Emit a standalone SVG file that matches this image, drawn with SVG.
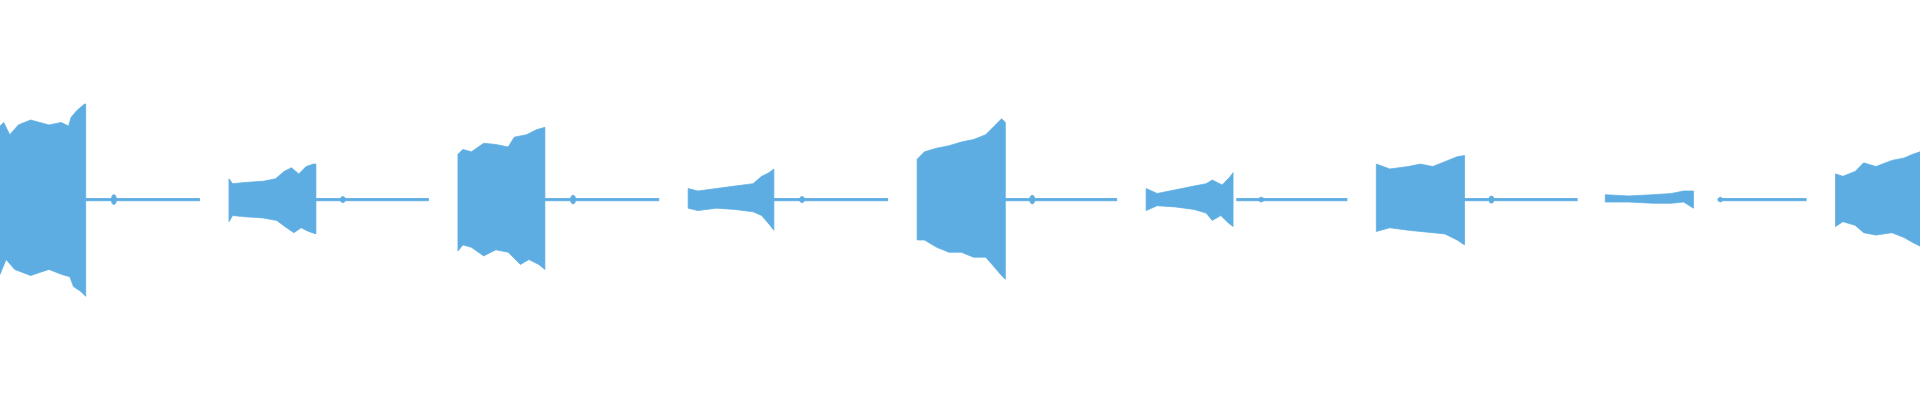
<svg xmlns="http://www.w3.org/2000/svg" width="1920" height="400" viewBox="0 0 1920 400">
<style>.w{fill:#5dade2;stroke:#5dade2;stroke-width:0.6}</style>
<rect width="1920" height="400" fill="#fff"/>
<g transform="scale(1.2245)">
<g id="wave" class="w">
<path d="M0,103 L3,100 L8,110 L15,102 L25,98 L40,102 L50,100 L56,103 L58,96 L63,90 L69,85 L70,85 L70,242 L66,238 L60,234 L57,226 L50,224 L40,220 L25,225 L12,220 L5,212 L0,224 Z"/>
<path d="M187,146 L190,150 L200,149 L215,148 L225,146 L232,140 L238,137 L244,142 L250,136 L256,134 L258,134 L258,191 L252,189 L246,186 L240,190 L234,186 L226,180 L215,178 L200,177 L190,176 L187,181 Z"/>
<path d="M374,126 L378,122 L385,124 L395,117 L405,118 L415,120 L420,112 L430,110 L438,106 L445,104 L445,220 L440,216 L432,212 L425,216 L415,206 L405,204 L395,209 L385,202 L378,200 L374,205 Z"/>
<path d="M562,154 L570,156 L585,154 L600,152 L615,150 L622,144 L628,141 L632,138 L632,188 L628,183 L622,176 L615,173 L600,171 L585,170 L570,172 L562,170 Z"/>
<path d="M749,130 L755,124 L765,121 L775,119 L785,116 L795,114 L805,110 L812,103 L818,97 L821,100 L821,228 L817,224 L812,218 L805,210 L795,210 L785,206 L775,206 L765,202 L755,196 L749,196 Z"/>
<path d="M936,154 L945,158 L960,155 L975,152 L985,150 L990,147 L998,151 L1004,145 L1007,141 L1007,185 L1003,182 L997,176 L990,180 L985,174 L975,171 L960,169 L945,168 L936,172 Z"/>
<path d="M1124,134 L1135,138 L1150,136 L1160,134 L1170,136 L1180,132 L1190,128 L1196,127 L1196,200 L1190,196 L1180,191 L1170,190 L1160,189 L1150,188 L1135,186 L1124,189 Z"/>
<path d="M1311,159 L1330,160 L1350,159 L1365,158 L1375,156 L1383,156 L1383,170 L1375,165 L1365,166 L1350,166 L1330,165 L1311,165 Z"/>
<path d="M1499,142 L1505,144 L1515,140 L1522,133 L1532,136 L1545,131 L1555,129 L1562,126 L1568,124 L1568,201 L1562,198 L1555,194 L1545,190 L1532,192 L1522,190 L1515,184 L1505,181 L1499,185 Z"/>
</g>
<g id="lines" class="w">
<rect x="70" y="162" width="93" height="2"/><ellipse cx="93" cy="163" rx="2" ry="4"/>
<rect x="258" y="162" width="92" height="2"/><ellipse cx="280" cy="163" rx="2" ry="2.5"/>
<rect x="445" y="162" width="93" height="2"/><ellipse cx="468" cy="163" rx="2" ry="3.5"/>
<rect x="632" y="162" width="93" height="2"/><ellipse cx="655" cy="163" rx="2" ry="2.5"/>
<rect x="821" y="162" width="91" height="2"/><ellipse cx="843" cy="163" rx="2" ry="3.5"/>
<rect x="1010" y="162" width="90" height="2"/><ellipse cx="1030" cy="163" rx="2" ry="2"/>
<rect x="1196" y="162" width="92" height="2"/><ellipse cx="1218" cy="163" rx="2" ry="3"/>
<rect x="1403" y="162" width="72" height="2"/><ellipse cx="1405" cy="163" rx="1.5" ry="2"/>
</g>
</g>
</svg>
